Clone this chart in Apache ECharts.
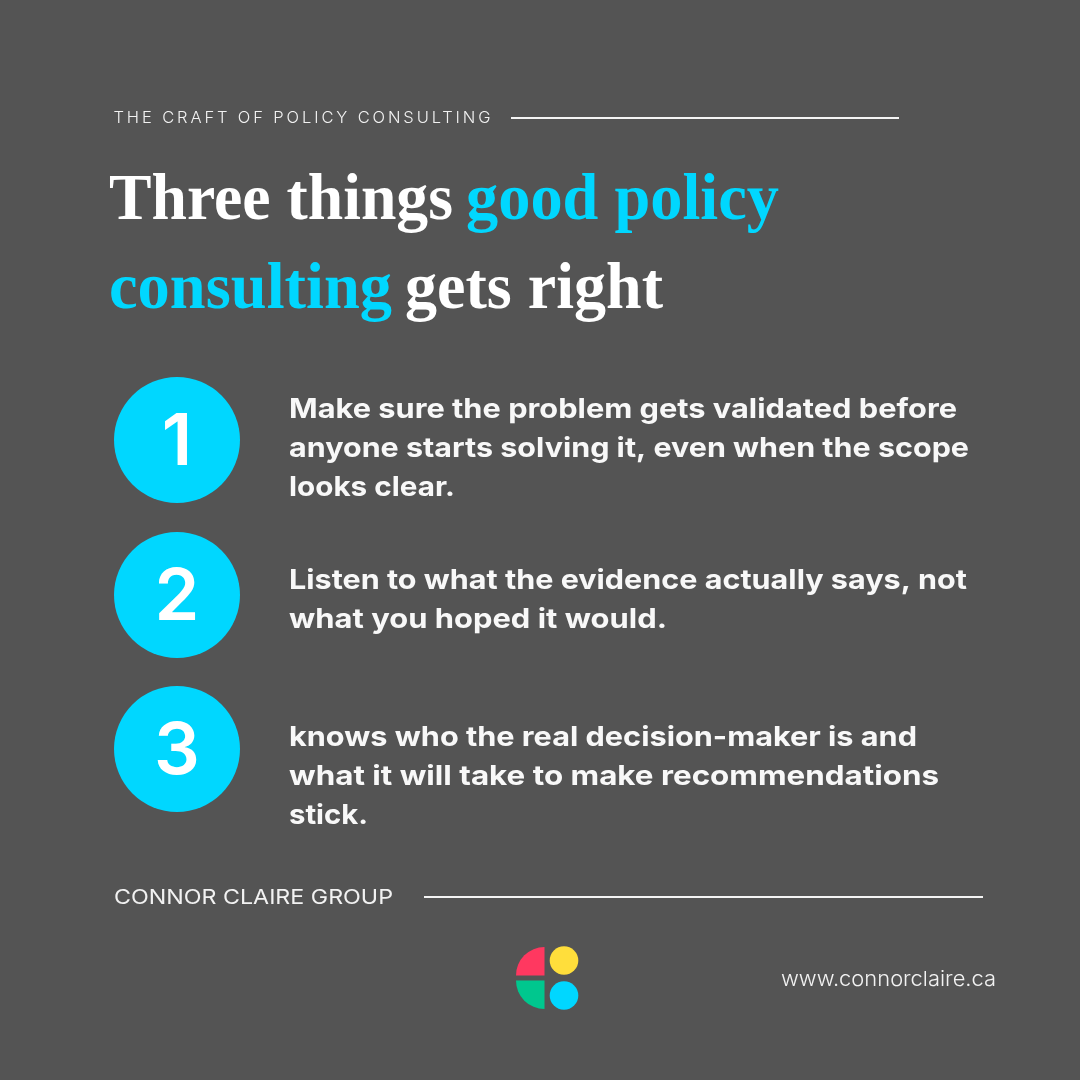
<!DOCTYPE html>
<html><head><meta charset="utf-8">
<style>html,body{margin:0;padding:0;background:#545454}#c{width:1080px;height:1080px}</style>
<script src="https://cdn.jsdelivr.net/npm/echarts@6/dist/echarts.min.js"></script>
</head><body><div id="c"></div>
<script>
const eyebrow = "THE CRAFT OF POLICY CONSULTING";
const titleRuns = [["Three things", "good policy"], ["consulting", "gets right"]];
const stepNumbers = ["1", "2", "3"];
const stepLines = [
  ["Make sure the problem gets validated before", "anyone starts solving it, even when the scope", "looks clear."],
  ["Listen to what the evidence actually says, not", "what you hoped it would."],
  ["knows who the real decision-maker is and", "what it will take to make recommendations", "stick."]
];
const footerName = "CONNOR CLAIRE GROUP";
const footerUrl = "www.connorclaire.ca";

const BG = '#545454', CYAN = '#00D7FF', WHITE = '#FFFFFF';
const SANS = 'Inter, "Noto Sans", sans-serif', SERIF = '"Liberation Serif", serif';
const circleY = [440, 595, 749];
const bodyBaselines = [[417.5, 456.5, 495.5], [588.5, 627.5], [745.5, 784.5, 823.5]];
const bodyRight = [[957, 969, 455], [967, 667], [917, 939, 368]];
const titleSpans = [[[109, 453, WHITE], [466, 779, CYAN]], [[109, 392, CYAN], [405, 663, WHITE]]];
const titleBaselines = [221, 310];

const mctx = document.createElement('canvas').getContext('2d');
const ASC = 0.79;
function txt(s, left, right, baseline, font, size, weight, fill, sy) {
  sy = sy || 1;
  mctx.font = `${weight} ${size}px ${font}`;
  const w = mctx.measureText(s).width;
  return {
    type: 'text', x: left, y: baseline - ASC * size * sy, scaleX: (right - left) / w, scaleY: sy, silent: true,
    style: { text: s, x: 0, y: 0, fill, font: `${weight} ${size}px ${font}`, textAlign: 'left' }
  };
}
function rule(x1, x2, y, lw) {
  return { type: 'line', silent: true, shape: { x1, y1: y, x2, y2: y }, style: { stroke: '#F4F4F4', lineWidth: lw } };
}
// tracked-out eyebrow line
const EB_FONT = `300 16.5px ${SANS}`;
mctx.font = EB_FONT;
const ebSpacing = (377 - mctx.measureText(eyebrow).width) / (eyebrow.length - 1);
const rawFill = CanvasRenderingContext2D.prototype.fillText;
CanvasRenderingContext2D.prototype.fillText = function (t, x, y, m) {
  if (t === eyebrow) {
    this.letterSpacing = ebSpacing + 'px';
    rawFill.call(this, t, x, y);
    this.letterSpacing = '0px';
  } else if (m === undefined) rawFill.call(this, t, x, y);
  else rawFill.call(this, t, x, y, m);
};

const g = [];
g.push({ type: 'text', x: 113.5, y: 123 - ASC * 16.5, silent: true, style: { text: eyebrow, x: 0, y: 0, fill: '#F2F2F2', font: EB_FONT, textAlign: 'left' } });
g.push(rule(511, 899, 118, 2));
titleRuns.forEach((runs, i) => runs.forEach((r, j) => {
  const [l, rt, col] = titleSpans[i][j];
  g.push(txt(r, l, rt, titleBaselines[i], SERIF, 64, 700, col, 1.03));
}));
stepLines.forEach((lines, i) => lines.forEach((s, j) => {
  g.push(txt(s, 289, bodyRight[i][j], bodyBaselines[i][j], SANS, 27.5, 700, '#F8F8F8'));
}));
g.push(txt(footerName, 114, 393, 904, SANS, 20.5, 400, '#F2F2F2'));
g.push(rule(424, 983, 897, 2));
g.push(txt(footerUrl, 781, 996, 985.5, SANS, 20.5, 300, '#F2F2F2'));
const sector = (cx, cy, a0, a1, fill) => ({ type: 'sector', silent: true, shape: { cx, cy, r0: 0, r: 28.5, startAngle: a0, endAngle: a1 }, style: { fill } });
g.push(sector(544.5, 975.5, Math.PI, Math.PI * 1.5, '#FF3860'));
g.push(sector(544.5, 980.5, Math.PI / 2, Math.PI, '#00C78E'));
g.push({ type: 'circle', silent: true, shape: { cx: 564, cy: 960.5, r: 14.3 }, style: { fill: '#FFDE3B' } });
g.push({ type: 'circle', silent: true, shape: { cx: 564, cy: 995.5, r: 14.3 }, style: { fill: CYAN } });

const chart = echarts.init(document.getElementById('c'), null, { renderer: 'canvas', width: 1080, height: 1080 });
chart.setOption({
  animation: false,
  backgroundColor: BG,
  grid: { left: 0, right: 0, top: 0, bottom: 0 },
  xAxis: { type: 'value', min: 0, max: 1080, show: false },
  yAxis: { type: 'value', min: 0, max: 1080, inverse: true, show: false },
  tooltip: { show: false },
  series: [{
    type: 'scatter', symbol: 'circle', symbolSize: 126, silent: true,
    itemStyle: { color: CYAN, opacity: 1 },
    data: stepNumbers.map((n, i) => ({ value: [177, circleY[i]], name: n })),
    label: { show: true, position: 'inside', offset: [0, 3], formatter: p => p.name, color: WHITE, fontFamily: 'Inter, sans-serif', fontWeight: 600, fontSize: 72 }
  }],
  graphic: g
});
</script></body></html>
